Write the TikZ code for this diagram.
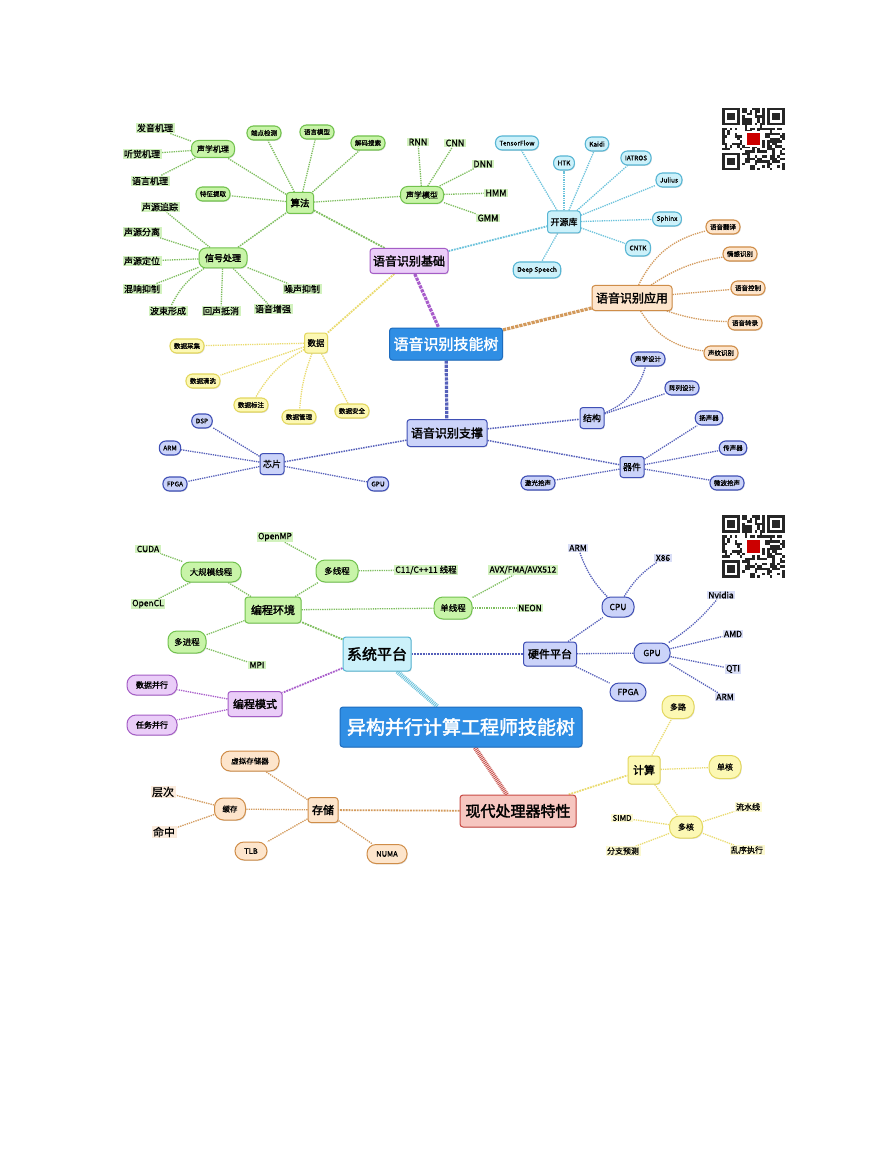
\documentclass[tikz,border=0pt]{standalone}
\usepackage{fontspec}
\newfontfamily\cjk{Noto Sans CJK SC}
\newfontfamily\cjkm[FakeBold=1]{Noto Sans CJK SC}
\newfontfamily\cjkb[FakeBold=2.2]{Noto Sans CJK SC}
\usetikzlibrary{shadows}
\pgfdeclarelayer{bg}
\pgfdeclarelayer{back}
\pgfsetlayers{back,bg,main}
\newcommand\myfs[1]{\fontsize{#1}{#1}\selectfont}
\definecolor{gF}{HTML}{C8F4A8}
\definecolor{gB}{HTML}{72C24E}
\definecolor{gL}{HTML}{7EBE5E}
\definecolor{gT}{HTML}{D2F2BE}
\definecolor{pF}{HTML}{EACDF8}
\definecolor{pB}{HTML}{A45DC6}
\definecolor{pL}{HTML}{A85CCB}
\definecolor{cF}{HTML}{CCF1FA}
\definecolor{cB}{HTML}{58B6D4}
\definecolor{cL}{HTML}{6CC3DC}
\definecolor{oF}{HTML}{FDE5CC}
\definecolor{oB}{HTML}{CF8D48}
\definecolor{oL}{HTML}{D39A5C}
\definecolor{oT}{HTML}{FBEBDC}
\definecolor{yF}{HTML}{FCF8B4}
\definecolor{yB}{HTML}{E3D75E}
\definecolor{yL}{HTML}{EADB6E}
\definecolor{yT}{HTML}{FCF9D0}
\definecolor{bF}{HTML}{CBD3F9}
\definecolor{bB}{HTML}{3F4FB5}
\definecolor{bL}{HTML}{5560BA}
\definecolor{bT}{HTML}{D8DDF6}
\definecolor{mF}{HTML}{2F8EE4}
\definecolor{mB}{HTML}{1D6CBF}
\definecolor{rF}{HTML}{F6C6C0}
\definecolor{rB}{HTML}{C84A44}
\definecolor{rL}{HTML}{C8504A}
\tikzset{
 nd/.style={draw, line width=1pt, align=center, inner xsep=3pt, inner ysep=2pt,
   drop shadow={opacity=0.25, shadow xshift=0.7pt, shadow yshift=-0.9pt}},
 ctr/.style={nd, fill=mF, draw=mB, text=white, rounded corners=3pt, font=\cjkb\myfs{15}},
 lv1/.style={nd, rounded corners=3pt, font=\cjkb\myfs{12}, minimum height=25pt},
 lv2/.style={nd, rounded corners=3pt, font=\cjkb\myfs{9}},
 rnd/.style={nd, rounded corners=7pt, font=\cjkm\myfs{8}},
 pill/.style={nd, rounded corners=6.5pt, font=\cjkm\myfs{6.5}, minimum height=14pt, inner xsep=4pt, line width=1.1pt},
 mytag/.style={inner xsep=1.5pt, inner ysep=1pt, font=\cjkm\myfs{9}},
 sG/.style={draw=gB, fill=gF}, sP/.style={draw=pB, fill=pF}, sC/.style={draw=cB, fill=cF},
 sO/.style={draw=oB, fill=oF}, sY/.style={draw=yB, fill=yF}, sB/.style={draw=bB, fill=bF},
 sR/.style={draw=rB, fill=rF},
 tG/.style={mytag, fill=gT}, tB/.style={mytag, fill=bT}, tO/.style={mytag, fill=oT}, tY/.style={mytag, fill=yT},
 ln/.style={densely dotted, line width=1.3pt},
 thk/.style={densely dotted, line width=3.2pt},
 hat/.style={line width=4.5pt, dash pattern=on 0.9pt off 0.9pt},
 lG/.style={draw=gL}, lP/.style={draw=pL}, lC/.style={draw=cL}, lO/.style={draw=oL},
 lY/.style={draw=yL}, lB/.style={draw=bL}, lR/.style={draw=rL}
}
\newcommand\myqr[2]{%
\begin{scope}[shift={(#1,#2)}]
 \pgfmathsetseed{4242}
 \foreach \i in {0,...,24}{\foreach \j in {0,...,24}{%
   \pgfmathtruncatemacro\qb{rnd<0.5?1:0}%
   \ifnum\qb=1 \fill[black!85] (\i*2.5,\j*2.5) rectangle ++(2.5,2.5);\fi}}
 \foreach \ox/\oy in {0/0,45/0,0/45}{%
   \fill[white] (\ox-2.5,\oy-2.5) rectangle ++(22.5,22.5);
   \fill[black!85] (\ox,\oy) rectangle ++(17.5,17.5);
   \fill[white] (\ox+2.5,\oy+2.5) rectangle ++(12.5,12.5);
   \fill[black!85] (\ox+5,\oy+5) rectangle ++(7.5,7.5);}
 \fill[white] (23,23) rectangle ++(16.5,16.5);
 \fill[red!80!black] (25,25) rectangle ++(12.5,12.5);
\end{scope}}
\begin{document}
\begin{tikzpicture}[x=1pt,y=-1pt]
\useasboundingbox (0,0) rectangle (893,1155);
\begin{pgfonlayer}{back}
\fill[white] (0,0) rectangle (893,1155);
\end{pgfonlayer}
\myqr{722}{108}
\myqr{722}{515}
% ================= TOP MAP =================
\node[ctr, minimum width=113pt, minimum height=32pt] (tc) at (446,344) {语音识别技能树};
\node[lv1,sP, minimum width=78pt] (jc) at (409,261) {语音识别基础};
\node[lv1,sO, minimum width=80pt] (yy) at (632,298) {语音识别应用};
\node[lv1,sB, minimum width=80pt, minimum height=27pt] (zc) at (447,433) {语音识别支撑};
% green
\node[lv2,sG, font=\cjkb\myfs{9.5}, minimum width=27pt, minimum height=21pt] (sf) at (300,203) {算法};
\node[rnd,sG, font=\cjkb\myfs{9}, minimum width=48pt, minimum height=20pt] (xh) at (223,258) {信号处理};
\node[rnd,sG, minimum width=43pt, minimum height=17pt] (sxjl) at (213,149) {声学机理};
\node[rnd,sG, minimum width=43pt, minimum height=17pt] (sxmx) at (422,195) {声学模型};
\node[pill,sG] (ddjc) at (264,133) {端点检测};
\node[pill,sG] (yymx) at (317,132) {语言模型};
\node[pill,sG] (jmss) at (368,143) {解码搜索};
\node[pill,sG] (tztq) at (213,194) {特征提取};
\node[tG] (fy) at (155,128) {发音机理};
\node[tG] (tj) at (142,154) {听觉机理};
\node[tG] (yj) at (150,181) {语言机理};
\node[tG] (zz) at (160,207) {声源追踪};
\node[tG] (fl) at (142,232) {声源分离};
\node[tG] (dw) at (142,261) {声源定位};
\node[tG] (hx) at (142,289) {混响抑制};
\node[tG] (bs) at (168,311) {波束形成};
\node[tG] (hs) at (221,311) {回声抵消};
\node[tG] (zq) at (273,309) {语音增强};
\node[tG] (zs) at (302,289) {噪声抑制};
\node[tG] (rnn) at (418,142) {RNN};
\node[tG] (cnn) at (455,143) {CNN};
\node[tG] (dnn) at (483,164) {DNN};
\node[tG] (hmm) at (496,193) {HMM};
\node[tG] (gmm) at (488,218) {GMM};
% cyan
\node[lv2,sC, minimum width=33pt, minimum height=22pt, font=\cjkm\myfs{9}] (kyk) at (564,222) {开源库};
\node[pill,sC] (tf) at (517,143) {TensorFlow};
\node[pill,sC] (htk) at (564,163) {HTK};
\node[pill,sC] (kaidi) at (597,144) {Kaidi};
\node[pill,sC] (iatros) at (636,158) {IATROS};
\node[pill,sC] (julius) at (669,180) {Julius};
\node[pill,sC] (sphinx) at (667,219) {Sphinx};
\node[pill,sC, minimum height=16pt] (cntk) at (638,248) {CNTK};
\node[pill,sC, minimum height=16pt] (ds) at (537,270) {Deep Speech};
% orange
\node[pill,sO] (a1) at (723,227) {语音翻译};
\node[pill,sO] (a2) at (740,254) {情感识别};
\node[pill,sO] (a3) at (748,288) {语音控制};
\node[pill,sO] (a4) at (745,323) {语音转录};
\node[pill,sO] (a5) at (721,353) {声纹识别};
% yellow
\node[lv2,sY, minimum width=22pt, minimum height=20pt, font=\cjkm\myfs{8.5}] (sj) at (316,343) {数据};
\node[pill,sY] (d1) at (187,346) {数据采集};
\node[pill,sY] (d2) at (203,381) {数据清洗};
\node[pill,sY] (d3) at (251,405) {数据标注};
\node[pill,sY] (d4) at (299,417) {数据管理};
\node[pill,sY] (d5) at (352,411) {数据安全};
% blue
\node[lv2,sB, minimum width=22pt, minimum height=21pt, font=\cjkm\myfs{9}] (jg) at (592,418) {结构};
\node[lv2,sB, minimum width=22pt, minimum height=21pt, font=\cjkm\myfs{9}] (qj) at (632,467) {器件};
\node[lv2,sB, minimum width=22pt, minimum height=21pt, font=\cjkm\myfs{9}] (xp) at (272,464) {芯片};
\node[pill,sB] (s1) at (648,359) {声学设计};
\node[pill,sB] (s2) at (682,388) {阵列设计};
\node[pill,sB] (q1) at (709,418) {扬声器};
\node[pill,sB] (q2) at (733,448) {传声器};
\node[pill,sB] (q3) at (727,483) {微波拾声};
\node[pill,sB] (q4) at (538,483) {激光拾声};
\node[pill,sB] (dsp) at (202,421) {DSP};
\node[pill,sB] (arma) at (170,448) {ARM};
\node[pill,sB] (fpgaa) at (175,484) {FPGA};
\node[pill,sB] (gpua) at (378,484) {GPU};
% ================= BOTTOM MAP =================
\node[ctr, minimum width=242pt, minimum height=40pt, font=\cjkb\myfs{19}] (bc) at (461,727) {异构并行计算工程师技能树};
\node[lv1,sC, minimum width=68pt, minimum height=34pt, font=\cjkb\myfs{15}] (xt) at (377,654) {系统平台};
\node[lv1,sR, minimum width=116pt, minimum height=32pt, font=\cjkb\myfs{15}] (xd) at (518,811) {现代处理器特性};
\node[lv1,sG, minimum width=56pt, minimum height=26pt, font=\cjkb\myfs{11}] (bh) at (273,610) {编程环境};
\node[lv1,sP, minimum width=54pt, minimum height=25pt, font=\cjkb\myfs{11}] (bm) at (255,704) {编程模式};
\node[lv1,sB, minimum width=53pt, minimum height=24pt, font=\cjkb\myfs{11}] (yp) at (550,654) {硬件平台};
\node[lv1,sO, minimum width=30pt, minimum height=25pt, font=\cjkb\myfs{11}] (cc) at (323,810) {存储};
\node[lv1,sY, minimum width=32pt, minimum height=28pt, font=\cjkb\myfs{11}] (js) at (644,770) {计算};
\node[rnd,sG, rounded corners=9pt, minimum width=60pt, minimum height=20pt, font=\cjkm\myfs{8.5}] (dgm) at (211,572) {大规模线程};
\node[rnd,sG, rounded corners=9pt, minimum width=42pt, minimum height=22pt, font=\cjkm\myfs{8.5}] (dxc) at (337,571) {多线程};
\node[rnd,sG, rounded corners=9pt, minimum width=38pt, minimum height=22pt, font=\cjkm\myfs{8.5}] (dan) at (453,608) {单线程};
\node[rnd,sG, rounded corners=9pt, minimum width=38pt, minimum height=22pt, font=\cjkm\myfs{8.5}] (djc) at (187,642) {多进程};
\node[tG, font=\cjkm\myfs{8.5}] (cuda) at (148,549) {CUDA};
\node[tG, font=\cjkm\myfs{8.5}] (opencl) at (148,604) {OpenCL};
\node[tG, font=\cjkm\myfs{8.5}] (openmp) at (275,537) {OpenMP};
\node[tG, font=\cjkm\myfs{8.5}] (c11) at (426,570) {C11/C++11 线程};
\node[tG, font=\cjkm\myfs{8.5}] (avx) at (523,570) {AVX/FMA/AVX512};
\node[tG, font=\cjkm\myfs{8.5}] (neon) at (530,608) {NEON};
\node[tG, font=\cjkm\myfs{8.5}] (mpi) at (257,665) {MPI};
\node[rnd,sP, rounded corners=9pt, minimum width=50pt, minimum height=20pt, font=\cjkb\myfs{8}] (sjbx) at (152,685) {数据并行};
\node[rnd,sP, rounded corners=9pt, minimum width=50pt, minimum height=20pt, font=\cjkb\myfs{8}] (rwbx) at (152,725) {任务并行};
\node[rnd,sB, rounded corners=9pt, minimum width=32pt, minimum height=20pt, font=\cjkm\myfs{8.5}] (cpu) at (618,607) {CPU};
\node[rnd,sB, rounded corners=9pt, minimum width=36pt, minimum height=20pt, font=\cjkm\myfs{8.5}] (gpu) at (652,653) {GPU};
\node[rnd,sB, rounded corners=9pt, minimum width=36pt, minimum height=18pt, font=\cjkm\myfs{8.5}] (fpga) at (628,692) {FPGA};
\node[tB, font=\cjkm\myfs{8.5}] (armb) at (578,548) {ARM};
\node[tB, font=\cjkm\myfs{8.5}] (x86) at (663,558) {X86};
\node[tB, font=\cjkm\myfs{8.5}] (nv) at (721,595) {Nvidia};
\node[tB, font=\cjkm\myfs{8.5}] (amd) at (733,634) {AMD};
\node[tB, font=\cjkm\myfs{8.5}] (qti) at (733,669) {QTI};
\node[tB, font=\cjkm\myfs{8.5}] (armc) at (725,697) {ARM};
\node[rnd,sO, rounded corners=9pt, minimum width=58pt, minimum height=20pt, font=\cjkm\myfs{7.5}] (xn) at (250,761) {虚拟存储器};
\node[rnd,sO, rounded corners=9pt, minimum width=31pt, minimum height=22pt, font=\cjkm\myfs{7.5}] (hc) at (230,809) {缓存};
\node[rnd,sO, rounded corners=9pt, minimum width=32pt, minimum height=18pt, font=\cjkm\myfs{7.5}] (tlb) at (251,851) {TLB};
\node[rnd,sO, rounded corners=9pt, minimum width=40pt, minimum height=19pt, font=\cjkm\myfs{7.5}] (numa) at (387,854) {NUMA};
\node[tO, font=\cjkm\myfs{11}] (cengci) at (163,792) {层次};
\node[tO, font=\cjkm\myfs{11}] (mingz) at (164,832) {命中};
\node[rnd,sY, rounded corners=10pt, minimum width=32pt, minimum height=23pt, font=\cjkm\myfs{8}] (dl) at (678,707) {多路};
\node[rnd,sY, rounded corners=10pt, minimum width=32pt, minimum height=23pt, font=\cjkm\myfs{8}] (dh) at (725,767) {单核};
\node[rnd,sY, rounded corners=10pt, minimum width=33pt, minimum height=22pt, font=\cjkm\myfs{8}] (dhe) at (686,827) {多核};
\node[tY, font=\cjkm\myfs{8}] (simd) at (622,818) {SIMD};
\node[tY, font=\cjkm\myfs{8}] (lsx) at (748,807) {流水线};
\node[tY, font=\cjkm\myfs{8}] (fzyc) at (623,851) {分支预测};
\node[tY, font=\cjkm\myfs{8}] (lxzx) at (747,850) {乱序执行};
% ================= CONNECTORS =================
\begin{pgfonlayer}{bg}
\draw[thk,lP] (jc) -- (tc);
\draw[thk,lO] (tc) -- (yy);
\draw[thk,lB] (tc) -- (zc);
\draw[ln,lC,line width=1.8pt] (jc) -- (kyk);
\draw[ln,lY,line width=1.8pt] (jc) -- (sj);
\draw[ln,lG,line width=1.8pt] (jc) -- (sf);
\draw[ln,lG,line width=1.5pt] (sf) -- (xh);
\foreach \n in {sxjl,ddjc,yymx,jmss,tztq,sxmx} \draw[ln,lG] (sf) -- (\n);
\foreach \n in {fy,tj,yj} \draw[ln,lG] (sxjl) -- (\n);
\foreach \n in {zz,fl,dw,hx,hs,zq,zs} \draw[ln,lG] (xh) -- (\n);
\draw[ln,lG] (xh) to[bend right=15] (bs);
\foreach \n in {rnn,cnn,dnn,hmm,gmm} \draw[ln,lG] (sxmx) -- (\n);
\foreach \n in {tf,htk,kaidi,iatros,julius,sphinx,cntk,ds} \draw[ln,lC] (kyk) -- (\n);
\draw[ln,lO] (yy) to[bend left=25] (a1);
\draw[ln,lO] (yy) to[bend left=12] (a2);
\draw[ln,lO] (yy) -- (a3);
\draw[ln,lO] (yy) to[bend right=8] (a4);
\draw[ln,lO] (yy) to[bend right=25] (a5);
\foreach \n in {d1,d2,d5} \draw[ln,lY] (sj) -- (\n);
\draw[ln,lY] (sj) to[bend right=15] (d3);
\draw[ln,lY] (sj) to[bend right=8] (d4);
\draw[ln,lB,line width=1.5pt] (zc) -- (jg);
\draw[ln,lB,line width=1.5pt] (zc) -- (qj);
\draw[ln,lB,line width=1.5pt] (zc) -- (xp);
\draw[ln,lB] (jg) to[bend right=25] (s1);
\draw[ln,lB] (jg) -- (s2);
\foreach \n in {q1,q2,q3,q4} \draw[ln,lB] (qj) -- (\n);
\foreach \n in {dsp,arma,fpgaa,gpua} \draw[ln,lB] (xp) -- (\n);
% bottom
\draw[hat,lC] (xt) -- (bc);
\draw[hat,lR] (xd) -- (bc);
\draw[ln,lG,line width=1.8pt] (xt) -- (bh);
\draw[ln,lP,line width=1.8pt] (xt) -- (bm);
\draw[ln,lB,line width=1.8pt] (xt) -- (yp);
\draw[ln,lO,line width=1.8pt] (xd) -- (cc);
\draw[ln,lY,line width=1.8pt] (xd) -- (js);
\foreach \n in {dgm,dxc,dan,djc} \draw[ln,lG] (bh) -- (\n);
\foreach \n in {cuda,opencl} \draw[ln,lG] (dgm) -- (\n);
\foreach \n in {openmp,c11} \draw[ln,lG] (dxc) -- (\n);
\foreach \n in {avx,neon} \draw[ln,lG] (dan) -- (\n);
\draw[ln,lG] (djc) -- (mpi);
\foreach \n in {sjbx,rwbx} \draw[ln,lP] (bm) -- (\n);
\foreach \n in {cpu,gpu,fpga} \draw[ln,lB] (yp) -- (\n);
\draw[ln,lB] (cpu) to[bend left=12] (armb);
\draw[ln,lB] (cpu) to[bend left=12] (x86);
\draw[ln,lB] (gpu) to[bend right=8] (nv);
\foreach \n in {amd,qti,armc} \draw[ln,lB] (gpu) -- (\n);
\foreach \n in {xn,hc,tlb,numa} \draw[ln,lO] (cc) -- (\n);
\foreach \n in {cengci,mingz} \draw[ln,lO] (hc) -- (\n);
\foreach \n in {dl,dh,dhe} \draw[ln,lY] (js) -- (\n);
\foreach \n in {simd,lsx,fzyc,lxzx} \draw[ln,lY] (dhe) -- (\n);
\end{pgfonlayer}
\end{tikzpicture}
\end{document}
